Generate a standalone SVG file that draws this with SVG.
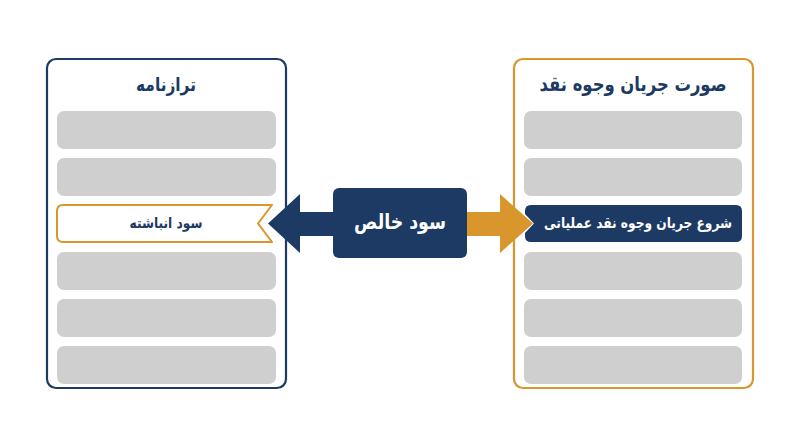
<svg xmlns="http://www.w3.org/2000/svg" width="800" height="447" viewBox="0 0 800 447">
<style>
.bar{fill:#cfcfcf}
.t{font-family:"DejaVu Sans","Noto Sans",sans-serif;font-weight:bold;text-anchor:middle;dominant-baseline:central;direction:rtl}
.navy{fill:#1c3a64}
.org{fill:#d8962c}
</style>
<rect width="800" height="447" fill="#ffffff"/>
<g id="balance-sheet">
<rect x="47" y="59" width="239" height="329" rx="9" fill="#fff" stroke="#1c3a64" stroke-width="2.2"/>
<text class="t navy" x="166" y="84" font-size="19" textLength="60" lengthAdjust="spacingAndGlyphs">ترازنامه</text>
<rect class="bar" x="57" y="111" width="219" height="38" rx="7"/>
<rect class="bar" x="57" y="158" width="219" height="38" rx="7"/>
<rect class="bar" x="57" y="252" width="219" height="38" rx="7"/>
<rect class="bar" x="57" y="299" width="219" height="38" rx="7"/>
<rect class="bar" x="57" y="346" width="219" height="38" rx="7"/>
</g>
<g id="retained-earnings">
<path d="M63 205 H272 L258 223.5 L272 242 H63 Q57 242 57 236 V211 Q57 205 63 205 Z" fill="#fff" stroke="#d8962c" stroke-width="2" stroke-linejoin="round"/>
<text class="t navy" x="166" y="223" font-size="15" textLength="73" lengthAdjust="spacingAndGlyphs">سود انباشته</text>
</g>
<g id="cash-flow-statement">
<rect x="514" y="59" width="239" height="329" rx="9" fill="#fff" stroke="#d8962c" stroke-width="2.2"/>
<text class="t navy" x="633" y="84" font-size="20" textLength="187" lengthAdjust="spacingAndGlyphs">صورت جریان وجوه نقد</text>
<rect class="bar" x="524" y="111" width="218" height="38" rx="7"/>
<rect class="bar" x="524" y="158" width="218" height="38" rx="7"/>
<rect class="bar" x="524" y="252" width="218" height="38" rx="7"/>
<rect class="bar" x="524" y="299" width="218" height="38" rx="7"/>
<rect class="bar" x="524" y="346" width="218" height="38" rx="7"/>
</g>
<g id="operating-cash-flow">
<path d="M531 205 H736 Q742 205 742 211 V236 Q742 242 736 242 H531 Q525 242 525 236 V233 L534 223.5 L525 214 V211 Q525 205 531 205 Z" fill="#1c3a64"/>
<text class="t" x="638" y="223" font-size="15" fill="#fff" textLength="188" lengthAdjust="spacingAndGlyphs">شروع جریان وجوه نقد عملیاتی</text>
</g>
<g id="connectors">
<path d="M340 212 H300 V194 L268 223.5 L300 253 V236 H340 Z" class="navy"/>
<path d="M460 212 H500 V194 L533 223.5 L500 253 V236 H460 Z" class="org"/>
</g>
<g id="net-income">
<rect x="333" y="188" width="134" height="70" rx="6" fill="#1c3a64"/>
<text class="t" x="400" y="222" font-size="21" fill="#fff" textLength="92" lengthAdjust="spacingAndGlyphs">سود خالص</text>
</g>
</svg>
